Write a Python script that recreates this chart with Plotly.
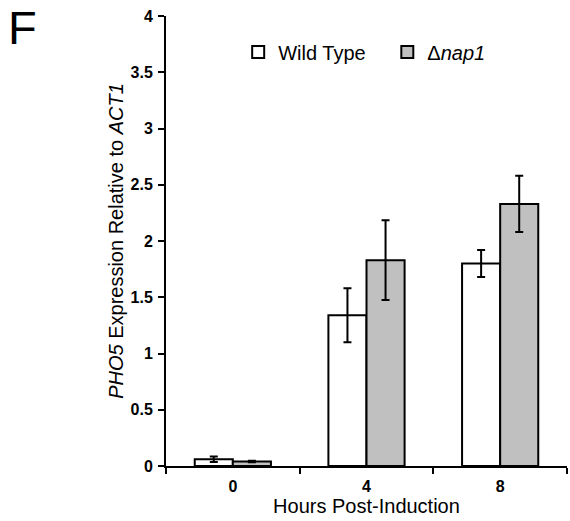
import plotly.graph_objects as go

categories = ["0", "4", "8"]
wt_values = [0.06, 1.34, 1.80]
wt_errors = [0.025, 0.24, 0.12]
nap1_values = [0.04, 1.83, 2.33]
nap1_errors = [0.006, 0.355, 0.25]
y_ticks = [0, 0.5, 1, 1.5, 2, 2.5, 3, 3.5, 4]

FONT = "Liberation Sans, Arial, sans-serif"

fig = go.Figure()
fig.add_trace(go.Bar(
    x=categories, y=wt_values, name="Wild Type\u00a0\u00a0\u00a0",
    marker=dict(color="white", line=dict(color="black", width=2)),
    error_y=dict(type="data", array=wt_errors, color="black", thickness=2, width=4),
))
fig.add_trace(go.Bar(
    x=categories, y=nap1_values, name="Δ<i>nap1</i>",
    marker=dict(color="#c0c0c0", line=dict(color="black", width=2)),
    error_y=dict(type="data", array=nap1_errors, color="black", thickness=2, width=4),
))

fig.update_layout(
    width=570, height=521,
    margin=dict(l=166, r=3, t=16, b=55),
    paper_bgcolor="white", plot_bgcolor="white",
    barmode="group", bargap=0.43, bargroupgap=0,
    font=dict(family=FONT, color="black"),
    showlegend=True,
    legend=dict(orientation="h", x=0.18, y=0.92, yanchor="middle", xanchor="left",
                font=dict(size=20, family=FONT), itemwidth=30,
                bgcolor="rgba(0,0,0,0)", tracegroupgap=0),
    xaxis=dict(
        type="category", showline=True, linecolor="black", linewidth=2,
        ticks="outside", tickson="boundaries", ticklen=6, tickwidth=2, tickcolor="black",
        tickfont=dict(size=16, weight="bold", family=FONT), ticklabelstandoff=5,
        title=dict(text="Hours Post-Induction", font=dict(size=20, family=FONT), standoff=3),
        showgrid=False, zeroline=False,
    ),
    yaxis=dict(
        range=[0, 4], tickvals=y_ticks, showline=True, linecolor="black", linewidth=2,
        ticks="outside", ticklen=6, tickwidth=2, tickcolor="black",
        tickfont=dict(size=16, weight="bold", family=FONT), ticklabelstandoff=2,
        title=dict(text="<i>PHO5</i> Expression Relative to <i>ACT1</i>",
                   font=dict(size=20, family=FONT), standoff=2),
        showgrid=False, zeroline=False,
    ),
    annotations=[dict(text="F", xref="paper", yref="paper", x=-0.398, y=0.975,
                      xanchor="left", yanchor="middle", showarrow=False,
                      font=dict(size=47, family=FONT, color="black"))],
)

fig.write_html("out.html")
